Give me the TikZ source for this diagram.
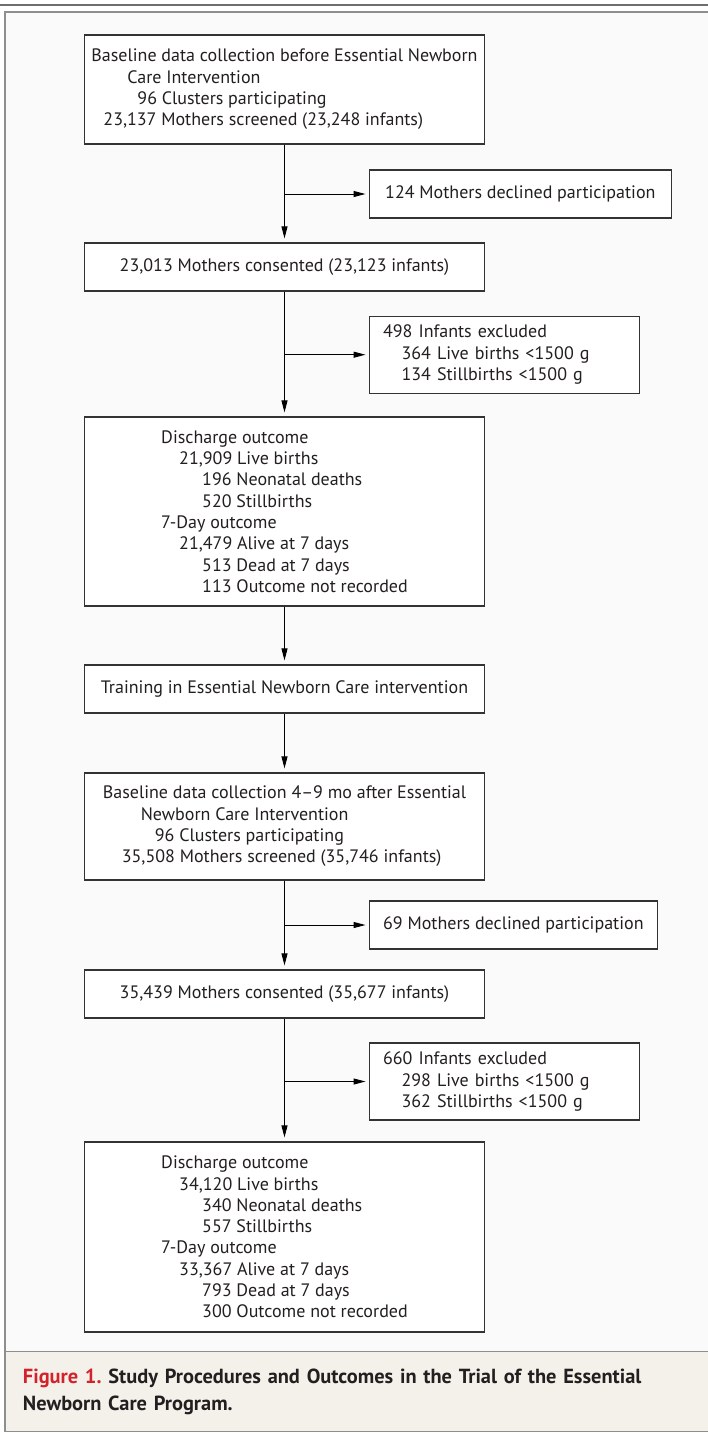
\documentclass[tikz,border=0pt]{standalone}
\usepackage{fontspec}
\setmainfont{PT Sans}
\usetikzlibrary{arrows.meta}
\definecolor{panelgray}{HTML}{FAFAFA}
\definecolor{captionbeige}{HTML}{F4F1EB}
\definecolor{framegray}{HTML}{8E8E8E}
\definecolor{rulegray}{HTML}{6E6E6E}
\definecolor{figred}{HTML}{D2232A}
\definecolor{captext}{HTML}{231F20}
\definecolor{boxline}{HTML}{333333}
\frenchspacing
\begin{document}
\begin{tikzpicture}
[x=1pt, y=-1pt, font=\fontsize{18}{21.3}\selectfont, text=captext, >={Triangle[length=12pt,width=6pt]},
mainbox/.style={rectangle, draw=boxline, fill=white, line width=1.2pt, minimum width=399.5pt, align=left, inner sep=0pt},
sidebox/.style={rectangle, draw=boxline, fill=white, line width=1.2pt, anchor=west, align=left, inner xsep=14pt, inner ysep=0pt},
flow/.style={->, line width=1pt, shorten >=4pt},
sideflow/.style={->, line width=1pt, shorten >=3pt}]

\useasboundingbox (0,0) rectangle (708,1433);
\fill[white] (0,0) rectangle (708,1433);
\fill[panelgray] (5,12) rectangle (712,1351.7);
\fill[captionbeige] (5,1351.7) rectangle (712,1431.7);
\draw[framegray, line width=1.4pt] (712,12) -- (5,12) -- (5,1431.7) -- (712,1431.7);
\draw[framegray, line width=1.4pt] (5,1351.7) -- (712,1351.7);
\draw[rulegray, line width=2.4pt] (0,5) -- (708,5);

\node[mainbox, minimum height=109pt] (base1) at (284.5,89.5) {Baseline data collection before Essential Newborn\\
\hspace*{36pt}Care Intervention\\
\hspace*{46pt}96 Clusters participating\\
\hspace*{12pt}23,137 Mothers screened (23,248 infants)};
\node[sidebox, minimum width=302.5pt, minimum height=48pt] (decline1) at (368.5,194) {124 Mothers declined participation};
\node[mainbox, minimum height=48pt] (consent1) at (284.5,267) {23,013 Mothers consented (23,123 infants)};
\node[sidebox, text width=242pt, minimum height=77pt] (exclude1) at (368.5,354.7) {498 Infants excluded\\
\hspace*{18.5pt}364 Live births <1500 g\\
\hspace*{18.5pt}134 Stillbirths <1500 g};
\node[mainbox, minimum height=189pt] (outcome1) at (284.5,511.5) {Discharge outcome\\
\hspace*{18pt}21,909 Live births\\
\hspace*{41pt}196 Neonatal deaths\\
\hspace*{41pt}520 Stillbirths\\
7-Day outcome\\
\hspace*{18pt}21,479 Alive at 7 days\\
\hspace*{41pt}513 Dead at 7 days\\
\hspace*{41pt}113 Outcome not recorded};
\node[mainbox, minimum height=48pt] (training) at (284.5,689) {Training in Essential Newborn Care intervention};
\node[mainbox, minimum height=107pt] (base2) at (284.5,826.5) {Baseline data collection 4--9 mo after Essential\\
\hspace*{38pt}Newborn Care Intervention\\
\hspace*{52pt}96 Clusters participating\\
\hspace*{19pt}35,508 Mothers screened (35,746 infants)};
\node[sidebox, minimum width=287pt, minimum height=48pt] (decline2) at (368.5,925) {69 Mothers declined participation};
\node[mainbox, minimum height=48pt] (consent2) at (284.5,994) {35,439 Mothers consented (35,677 infants)};
\node[sidebox, text width=242pt, minimum height=77pt] (exclude2) at (368.5,1081.5) {660 Infants excluded\\
\hspace*{18.5pt}298 Live births <1500 g\\
\hspace*{18.5pt}362 Stillbirths <1500 g};
\node[mainbox, minimum height=190pt] (outcome2) at (284.5,1237) {Discharge outcome\\
\hspace*{18pt}34,120 Live births\\
\hspace*{41pt}340 Neonatal deaths\\
\hspace*{41pt}557 Stillbirths\\
7-Day outcome\\
\hspace*{18pt}33,367 Alive at 7 days\\
\hspace*{41pt}793 Dead at 7 days\\
\hspace*{41pt}300 Outcome not recorded};

\draw[flow] (base1) -- (consent1);
\draw[sideflow] (decline1.west -| base1.south) -- (decline1.west);
\draw[flow] (consent1) -- (outcome1);
\draw[sideflow] (exclude1.west -| consent1.south) -- (exclude1.west);
\draw[flow] (outcome1) -- (training);
\draw[flow] (training) -- (base2);
\draw[flow] (base2) -- (consent2);
\draw[sideflow] (decline2.west -| base2.south) -- (decline2.west);
\draw[flow] (consent2) -- (outcome2);
\draw[sideflow] (exclude2.west -| consent2.south) -- (exclude2.west);

\node[anchor=base west, text width=680pt, align=left, inner sep=0pt, font=\fontsize{20.4}{26.7}\selectfont\bfseries] (caption) at (22.7,1383.3) {\textcolor{figred}{Figure 1.} Study Procedures and Outcomes in the Trial of the Essential\\
Newborn Care Program.};
\end{tikzpicture}
\end{document}
